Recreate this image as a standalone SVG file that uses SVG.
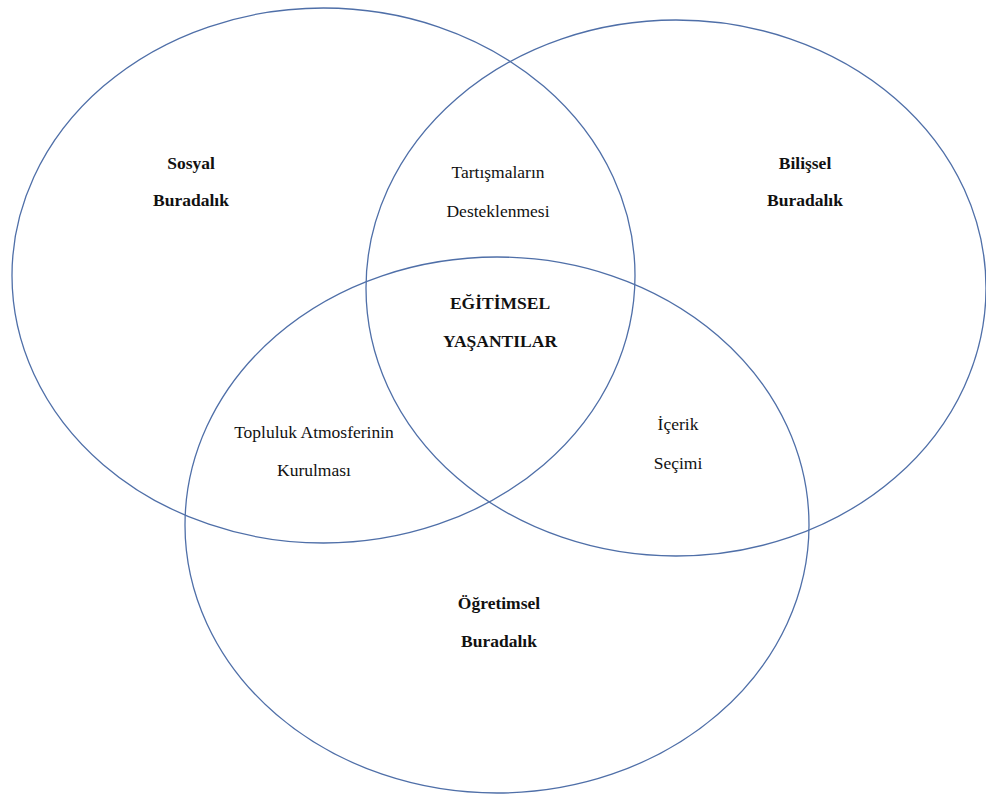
<svg xmlns="http://www.w3.org/2000/svg" width="986" height="796" viewBox="0 0 986 796">
<style>
.c{fill:none;stroke:#4f6fa8;stroke-width:1.3}
text{font-family:"Liberation Serif","Times New Roman","DejaVu Serif",serif;font-size:17.5px;fill:#111;text-anchor:middle}
.b{font-weight:bold}
</style>
<rect width="986" height="796" fill="#fff"/>
<g id="connectors"></g>
<g id="sosyal">
<ellipse class="c" cx="323.5" cy="275.5" rx="311.5" ry="267.5"/>
<text class="b" x="191" y="169">Sosyal</text>
<text class="b" x="191" y="206">Buradalık</text>
</g>
<g id="bilissel">
<ellipse class="c" cx="676" cy="288" rx="310" ry="268"/>
<text class="b" x="805" y="169">Bilişsel</text>
<text class="b" x="805" y="206">Buradalık</text>
</g>
<g id="ogretimsel">
<ellipse class="c" cx="497" cy="525" rx="312" ry="268"/>
<text class="b" x="499" y="609">Öğretimsel</text>
<text class="b" x="499" y="647">Buradalık</text>
</g>
<g id="tartisma">
<text x="498" y="178">Tartışmaların</text>
<text x="498" y="217">Desteklenmesi</text>
</g>
<g id="egitimsel">
<text class="b" x="500" y="309">EĞİTİMSEL</text>
<text class="b" x="500" y="347">YAŞANTILAR</text>
</g>
<g id="topluluk">
<text x="314" y="438">Topluluk Atmosferinin</text>
<text x="314" y="476">Kurulması</text>
</g>
<g id="icerik">
<text x="678" y="430">İçerik</text>
<text x="678" y="469">Seçimi</text>
</g>
</svg>
